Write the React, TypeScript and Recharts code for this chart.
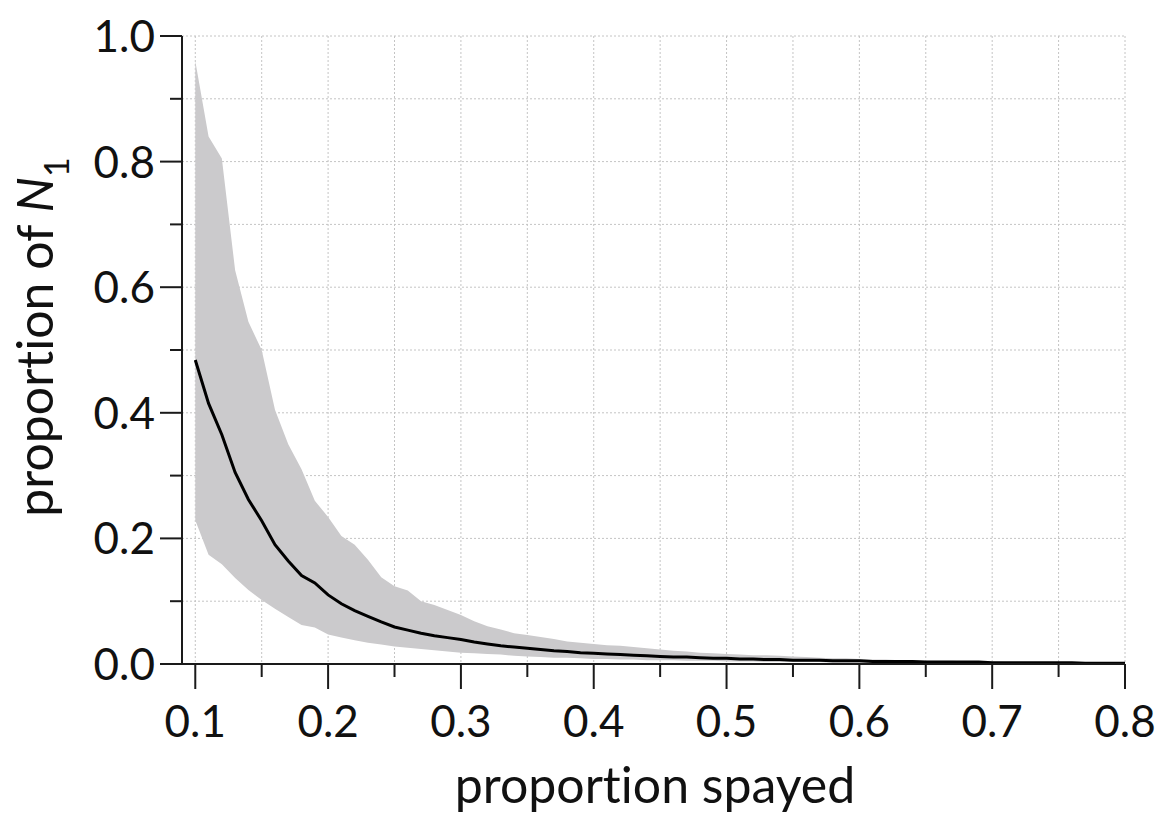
import React from 'react';
import { ComposedChart, Area, Line, XAxis, YAxis, CartesianGrid, Label } from 'recharts';

const proportionSpayed = [
  0.10, 0.11, 0.12, 0.13, 0.14, 0.15, 0.16, 0.17, 0.18, 0.19,
  0.20, 0.21, 0.22, 0.23, 0.24, 0.25, 0.26, 0.27, 0.28, 0.29,
  0.30, 0.31, 0.32, 0.33, 0.34, 0.35, 0.36, 0.37, 0.38, 0.39,
  0.40, 0.41, 0.42, 0.43, 0.44, 0.45, 0.46, 0.47, 0.48, 0.49,
  0.50, 0.51, 0.52, 0.53, 0.54, 0.55, 0.56, 0.57, 0.58, 0.59,
  0.60, 0.61, 0.62, 0.63, 0.64, 0.65, 0.66, 0.67, 0.68, 0.69,
  0.70, 0.71, 0.72, 0.73, 0.74, 0.75, 0.76, 0.77, 0.78, 0.79, 0.80,
];

const medianN1 = [
  0.484, 0.415, 0.365, 0.305, 0.262, 0.228, 0.190, 0.164, 0.141, 0.129,
  0.110, 0.096, 0.085, 0.076, 0.067, 0.059, 0.054, 0.049, 0.045, 0.042,
  0.039, 0.035, 0.032, 0.029, 0.027, 0.025, 0.023, 0.021, 0.020, 0.018,
  0.017, 0.016, 0.015, 0.014, 0.013, 0.012, 0.011, 0.011, 0.010, 0.009,
  0.009, 0.008, 0.008, 0.007, 0.007, 0.006, 0.006, 0.006, 0.005, 0.005,
  0.005, 0.004, 0.004, 0.004, 0.004, 0.003, 0.003, 0.003, 0.003, 0.003,
  0.002, 0.002, 0.002, 0.002, 0.002, 0.002, 0.002, 0.001, 0.001, 0.001, 0.001,
];

const upperN1 = [
  0.960, 0.840, 0.805, 0.627, 0.545, 0.500, 0.405, 0.350, 0.310, 0.260,
  0.234, 0.204, 0.190, 0.166, 0.138, 0.124, 0.117, 0.100, 0.094, 0.086,
  0.078, 0.068, 0.060, 0.055, 0.049, 0.046, 0.043, 0.040, 0.036, 0.034,
  0.032, 0.030, 0.029, 0.027, 0.025, 0.023, 0.021, 0.020, 0.018, 0.017,
  0.016, 0.015, 0.014, 0.014, 0.013, 0.012, 0.011, 0.010, 0.009, 0.009,
  0.008, 0.007, 0.007, 0.006, 0.006, 0.005, 0.005, 0.005, 0.004, 0.004,
  0.004, 0.003, 0.003, 0.003, 0.003, 0.002, 0.002, 0.002, 0.002, 0.002, 0.002,
];

const lowerN1 = [
  0.229, 0.174, 0.159, 0.137, 0.118, 0.102, 0.088, 0.075, 0.062, 0.058,
  0.047, 0.042, 0.038, 0.034, 0.031, 0.028, 0.026, 0.024, 0.022, 0.020,
  0.018, 0.017, 0.016, 0.015, 0.013, 0.012, 0.011, 0.010, 0.010, 0.009,
  0.008, 0.008, 0.007, 0.007, 0.006, 0.006, 0.006, 0.005, 0.005, 0.005,
  0.004, 0.004, 0.004, 0.003, 0.003, 0.003, 0.003, 0.003, 0.002, 0.002,
  0.002, 0.002, 0.002, 0.002, 0.002, 0.001, 0.001, 0.001, 0.001, 0.001,
  0.001, 0.001, 0.001, 0.001, 0.001, 0.000, 0.000, 0.000, 0.000, 0.000, 0.000,
];

const xTicks = [0.1, 0.15, 0.2, 0.25, 0.3, 0.35, 0.4, 0.45, 0.5, 0.55, 0.6, 0.65, 0.7, 0.75, 0.8];
const yTicks = [0, 0.1, 0.2, 0.3, 0.4, 0.5, 0.6, 0.7, 0.8, 0.9, 1.0];

const xLabelText = 'proportion spayed';
const yLabelText = 'proportion of ';

const data = proportionSpayed.map((x, i) => ({
  x,
  median: medianN1[i],
  band: [lowerN1[i], upperN1[i]],
}));

const FONT = 'Lato, "Open Sans", sans-serif';
const AXIS_COLOR = '#1a1a1a';
const NO_LIGA: React.CSSProperties = { fontVariantLigatures: 'none', fontFeatureSettings: '"liga" 0, "dlig" 0' };

const isMajor = (v: number, step: number) => Math.abs(Math.round(v / step) * step - v) < 1e-6;

const XTick = (props: any) => {
  const { x, y, payload } = props;
  const major = isMajor(payload.value, 0.1);
  return (
    <g>
      <line x1={x} x2={x} y1={y} y2={y + (major ? 25 : 13)} stroke={AXIS_COLOR} strokeWidth={2} />
      {major && (
        <text x={x} y={y + 73} textAnchor="middle" fontFamily={FONT} fontSize={44} fill="#111">
          {payload.value.toFixed(1)}
        </text>
      )}
    </g>
  );
};

const YTick = (props: any) => {
  const { x, y, payload } = props;
  const major = isMajor(payload.value, 0.2);
  return (
    <g>
      <line x1={x - (major ? 22 : 12)} x2={x} y1={y} y2={y} stroke={AXIS_COLOR} strokeWidth={2} />
      {major && (
        <text x={x - 27} y={y + 16} textAnchor="end" fontFamily={FONT} fontSize={44} fill="#111">
          {payload.value.toFixed(1)}
        </text>
      )}
    </g>
  );
};

const XLabel = () => (
  <text x={655} y={803} textAnchor="middle" fontFamily={FONT} fontSize={50} fill="#111" style={NO_LIGA}>
    {xLabelText}
  </text>
);

const YLabel = () => (
  <text
    x={53}
    y={337}
    transform="rotate(-90 53 337)"
    textAnchor="middle"
    fontFamily={FONT}
    fontSize={50}
    fill="#111"
    style={NO_LIGA}
  >
    {yLabelText}
    <tspan fontStyle="italic">N</tspan>
    <tspan fontSize={34} dy={16}>1</tspan>
  </text>
);

export default function App() {
  return (
    <div style={{ position: 'absolute', left: 0, top: 0, background: '#fff' }}>
      <ComposedChart
        width={1165}
        height={822}
        data={data}
        margin={{ top: 36, right: 40, bottom: 0, left: 0 }}
      >
        <CartesianGrid stroke="#c4c4c4" strokeDasharray="2 2" strokeWidth={1} />
        <XAxis
          dataKey="x"
          type="number"
          domain={[0.09, 0.8]}
          ticks={xTicks}
          interval={0}
          allowDataOverflow
          tickLine={false}
          tickSize={0}
          tickMargin={0}
          tick={<XTick />}
          axisLine={{ stroke: AXIS_COLOR, strokeWidth: 2 }}
          height={158}
        >
          <Label content={<XLabel />} />
        </XAxis>
        <YAxis
          type="number"
          domain={[0, 1]}
          ticks={yTicks}
          interval={0}
          width={182}
          tickLine={false}
          tickSize={0}
          tickMargin={0}
          tick={<YTick />}
          axisLine={{ stroke: AXIS_COLOR, strokeWidth: 2 }}
        >
          <Label content={<YLabel />} />
        </YAxis>
        <Area
          dataKey="band"
          type="linear"
          stroke="none"
          fill="#cbcacc"
          fillOpacity={1}
          isAnimationActive={false}
          activeDot={false}
        />
        <Line
          dataKey="median"
          type="linear"
          stroke="#000"
          strokeWidth={3}
          dot={false}
          activeDot={false}
          isAnimationActive={false}
        />
      </ComposedChart>
    </div>
  );
}
